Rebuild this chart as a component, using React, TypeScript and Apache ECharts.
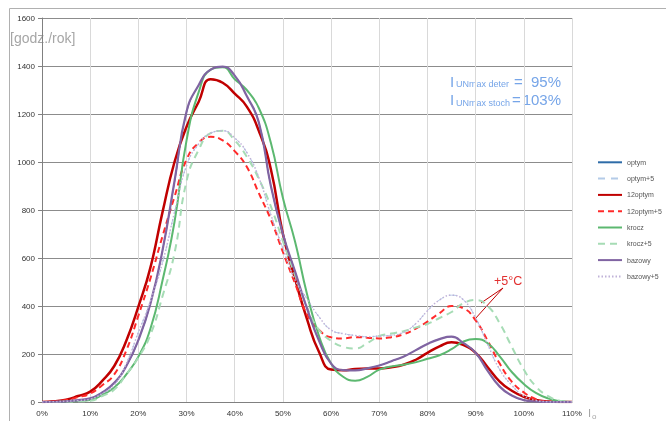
import { useEffect, useRef } from 'react';
import * as echarts from 'echarts';

const xPercent = [0, 2.5, 5, 7.5, 10, 12.5, 15, 17.5, 20, 22.5, 25, 27.5, 30, 32.5, 35, 37.5, 40, 42.5, 45, 47.5, 50, 52.5, 55, 57.5, 60, 62.5, 65, 67.5, 70, 72.5, 75, 77.5, 80, 82.5, 85, 87.5, 90, 92.5, 95, 97.5, 100, 102.5, 105, 107.5, 110];

const optym = [0, 1, 3, 8, 15, 40, 80, 150, 258, 410, 630, 915, 1205, 1320, 1385, 1397, 1360, 1275, 1165, 900, 700, 545, 390, 255, 160, 133, 132, 140, 152, 170, 189, 215, 242, 262, 272, 245, 205, 130, 64, 27, 8, 2, 0, 0, 0];
const optym5 = [0, 1, 3, 6, 12, 35, 70, 160, 290, 420, 580, 790, 985, 1075, 1120, 1130, 1100, 1040, 935, 780, 640, 510, 430, 355, 300, 285, 277, 272, 275, 278, 290, 325, 380, 425, 445, 425, 350, 240, 135, 70, 25, 7, 1, 0, 0];
const optym12 = [0, 3, 10, 25, 43, 88, 150, 255, 397, 560, 790, 1000, 1147, 1250, 1345, 1330, 1285, 1231, 1130, 970, 700, 515, 345, 208, 135, 132, 138, 140, 140, 145, 155, 175, 205, 232, 249, 237, 205, 145, 85, 47, 22, 8, 2, 0, 0];
const optym12p5 = [0, 2, 8, 20, 35, 70, 115, 215, 360, 515, 690, 855, 1010, 1080, 1105, 1090, 1045, 980, 870, 760, 625, 495, 365, 300, 270, 265, 270, 268, 265, 270, 282, 305, 335, 370, 400, 390, 340, 255, 160, 85, 40, 12, 1, 0, 0];
const krocz = [0, 0, 2, 4, 8, 30, 60, 115, 189, 305, 505, 750, 1090, 1290, 1385, 1395, 1345, 1300, 1225, 1080, 850, 670, 450, 275, 160, 105, 89, 105, 135, 148, 155, 165, 180, 195, 220, 252, 262, 245, 190, 125, 75, 38, 15, 4, 0];
const krocz5 = [0, 0, 2, 3, 5, 25, 52, 115, 185, 280, 440, 620, 920, 1050, 1120, 1130, 1090, 1022, 930, 815, 670, 530, 395, 300, 255, 230, 223, 245, 275, 285, 295, 310, 325, 350, 375, 412, 425, 400, 328, 230, 135, 65, 25, 5, 0];
const bazowy = [0, 1, 3, 8, 15, 40, 80, 150, 258, 410, 630, 920, 1210, 1320, 1385, 1397, 1360, 1275, 1165, 900, 700, 545, 390, 255, 160, 133, 132, 140, 152, 170, 189, 215, 242, 262, 272, 245, 205, 130, 64, 27, 8, 2, 0, 0, 0];
const bazowy5 = [0, 1, 3, 6, 12, 35, 70, 160, 290, 420, 580, 790, 985, 1075, 1120, 1130, 1100, 1040, 935, 780, 640, 510, 430, 355, 300, 285, 277, 272, 275, 278, 290, 325, 380, 425, 445, 425, 350, 240, 135, 70, 25, 7, 1, 0, 0];

const seriesNames = ['optym', 'optym+5', '12optym', '12optym+5', 'krocz', 'krocz+5', 'bazowy', 'bazowy+5'];

const FONT = '"Liberation Sans", Arial, sans-serif';

export default function App() {
  const ref = useRef<HTMLDivElement>(null);
  useEffect(() => {
    const chart = echarts.init(ref.current as HTMLDivElement, null, { renderer: 'svg' });
    const toPairs = (arr: number[]) => xPercent.map((x, i) => [x, arr[i]]);
    const mk = (name: string, data: number[], color: string, width: number, type: any) => ({
      name,
      type: 'line',
      data: toPairs(data),
      smooth: 0.5,
      symbol: 'none',
      showSymbol: false,
      lineStyle: { color, width, type },
      itemStyle: { color },
      emphasis: { disabled: true },
    });
    const blue = '#76a5e8';
    const txt = (text: string, x: number, y: number, size: number, color: string, align = 'left') => ({
      type: 'text',
      x,
      y,
      style: {
        text,
        fill: color,
        font: `${size}px ${FONT}`,
        align,
        textAlign: align,
        verticalAlign: 'middle',
        textVerticalAlign: 'middle',
      },
    });
    chart.setOption({
      animation: false,
      grid: { left: 42, top: 18, width: 530, height: 384, containLabel: false },
      xAxis: {
        type: 'value',
        min: 0,
        max: 110,
        interval: 10,
        axisLine: { show: true, lineStyle: { color: '#808080', width: 1 } },
        axisTick: { show: false },
        axisLabel: { formatter: '{value}%', fontSize: 8, color: '#333', fontFamily: FONT, margin: 7 },
        splitLine: { show: true, lineStyle: { color: '#d9d9d9', width: 1 } },
      },
      yAxis: {
        type: 'value',
        min: 0,
        max: 1600,
        interval: 200,
        axisLine: { show: true, lineStyle: { color: '#808080', width: 1 } },
        axisTick: { show: true, length: 4, lineStyle: { color: '#808080' } },
        axisLabel: { formatter: (v: number) => String(v), fontSize: 8, color: '#333', fontFamily: FONT, margin: 7 },
        splitLine: { show: true, lineStyle: { color: '#8c8c8c', width: 1 } },
      },
      legend: {
        data: seriesNames,
        orient: 'vertical',
        left: 597,
        top: 158,
        padding: 0,
        itemWidth: 24,
        itemHeight: 8,
        itemGap: 7.7,
        selectedMode: false,
        itemStyle: { opacity: 0 },
        textStyle: { fontSize: 7, color: '#555', fontFamily: FONT, lineHeight: 8.6 },
      },
      series: [
        mk('optym', optym, '#2e6ca8', 1, 'solid'),
        mk('optym+5', optym5, '#b4cbe8', 1, [7, 6]),
        mk('12optym', optym12, '#c00000', 2.5, 'solid'),
        mk('12optym+5', optym12p5, '#ff2a2a', 2, [6, 4]),
        mk('krocz', krocz, '#5cb870', 2, 'solid'),
        mk('krocz+5', krocz5, '#a6dcb5', 2, [7, 5]),
        mk('bazowy', bazowy, '#8064a2', 2.2, 'solid'),
        mk('bazowy+5', bazowy5, '#c0b2d8', 1.5, [1.5, 2]),
      ],
      graphic: [
        {
          type: 'rect',
          shape: { x: 9.5, y: 8.5, width: 700, height: 500 },
          style: { fill: 'none', stroke: '#b0b0b0', lineWidth: 1 },
          silent: true,
        },
        txt('[godz./rok]', 10, 38, 14, '#a6a6a6'),
        txt('I', 450, 81, 15, blue),
        txt('UNmax deter', 456, 84, 9, blue),
        txt('=', 514, 81, 15, blue),
        txt('95%', 561, 81, 15, blue, 'right'),
        txt('I', 450, 99, 15, blue),
        txt('UNmax stoch', 456, 103, 9, blue),
        txt('=', 512, 99, 15, blue),
        txt('103%', 561, 99, 15, blue, 'right'),
        txt('+5°C', 494, 281, 12.5, '#e23030'),
        {
          type: 'line',
          shape: { x1: 503, y1: 288, x2: 481, y2: 303 },
          style: { stroke: '#c00000', lineWidth: 1 },
        },
        {
          type: 'line',
          shape: { x1: 503, y1: 288, x2: 475, y2: 319 },
          style: { stroke: '#c00000', lineWidth: 1 },
        },
        txt('I', 588, 413, 11, '#a6a6a6'),
        txt('o', 592, 416, 8, '#a6a6a6'),
      ],
    });
    return () => chart.dispose();
  }, []);
  return <div ref={ref} style={{ position: 'fixed', left: 0, top: 0, width: 666, height: 421 }} />;
}
